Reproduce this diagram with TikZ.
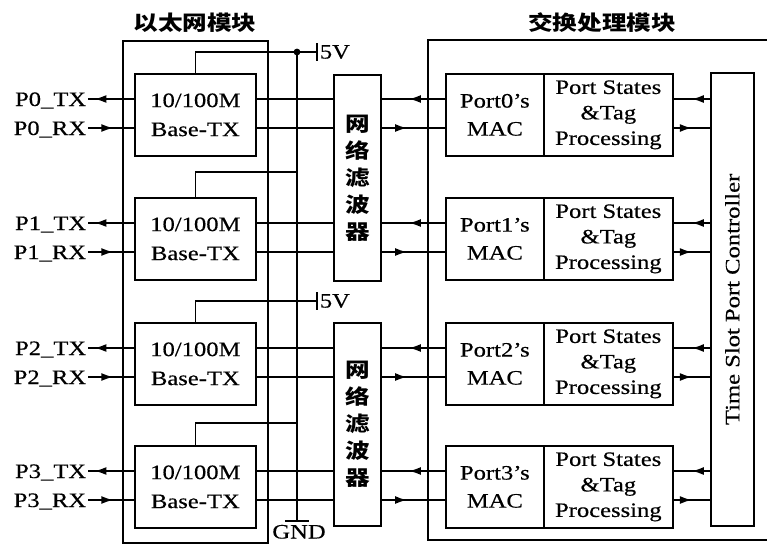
\documentclass[tikz,border=0pt]{standalone}
\usepackage{fontspec}
\setmainfont[FakeStretch=1.2,FakeBold=0.4]{Liberation Serif}
\newfontfamily\cjk[FakeStretch=1.2]{Noto Sans CJK SC}
\usetikzlibrary{arrows.meta,decorations.markings}
\tikzset{
  blk/.style={draw, rectangle, inner sep=0pt, align=center, anchor=north west},
  txt/.style={font=\fontsize{20.5}{29}\selectfont},
  cjkt/.style={font=\cjk\bfseries\fontsize{20.5}{27}\selectfont, align=center},
  ar/.style={postaction={decorate}, decoration={markings, mark=at position #1 with {\arrow{Latex[length=12pt,width=8pt]}}}},
}
\begin{document}
\begin{tikzpicture}[x=1pt,y=-1pt,line width=1.7pt]
\useasboundingbox (0,0) rectangle (767,544);
% titles
\node[cjkt] (t1) at (195,23) {以太网模块};
\node[cjkt] (t2) at (602,23) {交换处理模块};
% module frames
\node[blk, minimum width=145pt, minimum height=502pt] (eth) at (122,40) {};
\draw (775,40) -| (428,540) -- (775,540);
% filters
\node[blk, minimum width=47pt, minimum height=206pt] (fa) at (333,74) {};
\node[blk, minimum width=47pt, minimum height=203pt] (fb) at (333,322) {};
\node[cjkt] (fat) at (fa.center) {网\\络\\滤\\波\\器};
\node[cjkt] (fbt) at (fb.center) {网\\络\\滤\\波\\器};
% time slot controller
\node[blk, minimum width=43pt, minimum height=453pt] (tspc) at (710,72) {};
\node[txt, rotate=90] (tspct) at (tspc.center) {Time Slot Port Controller};
% rows
\foreach \i/\t/\f in {0/73/fa, 1/197/fa, 2/322/fb, 3/445/fb}{
  \coordinate (tx\i) at (0,\t+26);
  \coordinate (rx\i) at (0,\t+55);
  \node[blk, txt, minimum width=121pt, minimum height=82pt] (phy\i) at (134,\t) {10/100M\\Base-TX};
  \node[blk, font=\fontsize{20.5}{28}\selectfont, minimum width=98pt, minimum height=82pt] (mac\i) at (445,\t) {Port\i’s\\MAC};
  \node[blk, font=\fontsize{20.5}{25.5}\selectfont, minimum width=129pt, minimum height=82pt] (ps\i) at (543,\t) {Port States\\\&Tag\\Processing};
  \node[txt, anchor=base east, inner sep=1pt] (ltx\i) at (88,\t+33) {P\i\_TX};
  \node[txt, anchor=base east, inner sep=1pt] (lrx\i) at (88,\t+62) {P\i\_RX};
  \draw[ar=0.86] (phy\i.west |- tx\i) -- (ltx\i.east |- tx\i);
  \draw[ar=0.55] (lrx\i.east |- rx\i) -- (phy\i.west |- rx\i);
  \draw (phy\i.east |- tx\i) -- (\f.west |- tx\i);
  \draw (phy\i.east |- rx\i) -- (\f.west |- rx\i);
  \draw[ar=0.57] (mac\i.west |- tx\i) -- (\f.east |- tx\i);
  \draw[ar=0.4] (\f.east |- rx\i) -- (mac\i.west |- rx\i);
  \draw[ar=0.5] (tspc.west |- tx\i) -- (ps\i.east |- tx\i);
  \draw[ar=0.5] (ps\i.east |- rx\i) -- (tspc.west |- rx\i);
}
% power and ground
\coordinate (v5a) at (317,52);
\coordinate (v5b) at (317,301);
\coordinate (bustop) at (297,52);
\coordinate (b1) at (297,172);
\coordinate (b3) at (297,423);
\coordinate (gnd) at (297,521);
\draw (phy0.north) |- (v5a);
\draw (phy2.north) |- (v5b);
\draw (phy1.north) |- (b1);
\draw (phy3.north) |- (b3);
\draw (bustop) -- (gnd);
\fill (bustop) circle (3.4pt);
\draw (v5a) ++(0,-9) -- ++(0,18);
\draw (v5b) ++(0,-9) -- ++(0,18);
\draw (gnd) ++(-12,0) -- ++(24,0);
\node[txt, anchor=west, inner sep=2pt] (l5a) at (v5a) {5V};
\node[txt, anchor=west, inner sep=2pt] (l5b) at (v5b) {5V};
\node[txt, anchor=base, inner sep=0pt] (lgnd) at (299,538.5) {GND};
\end{tikzpicture}
\end{document}
